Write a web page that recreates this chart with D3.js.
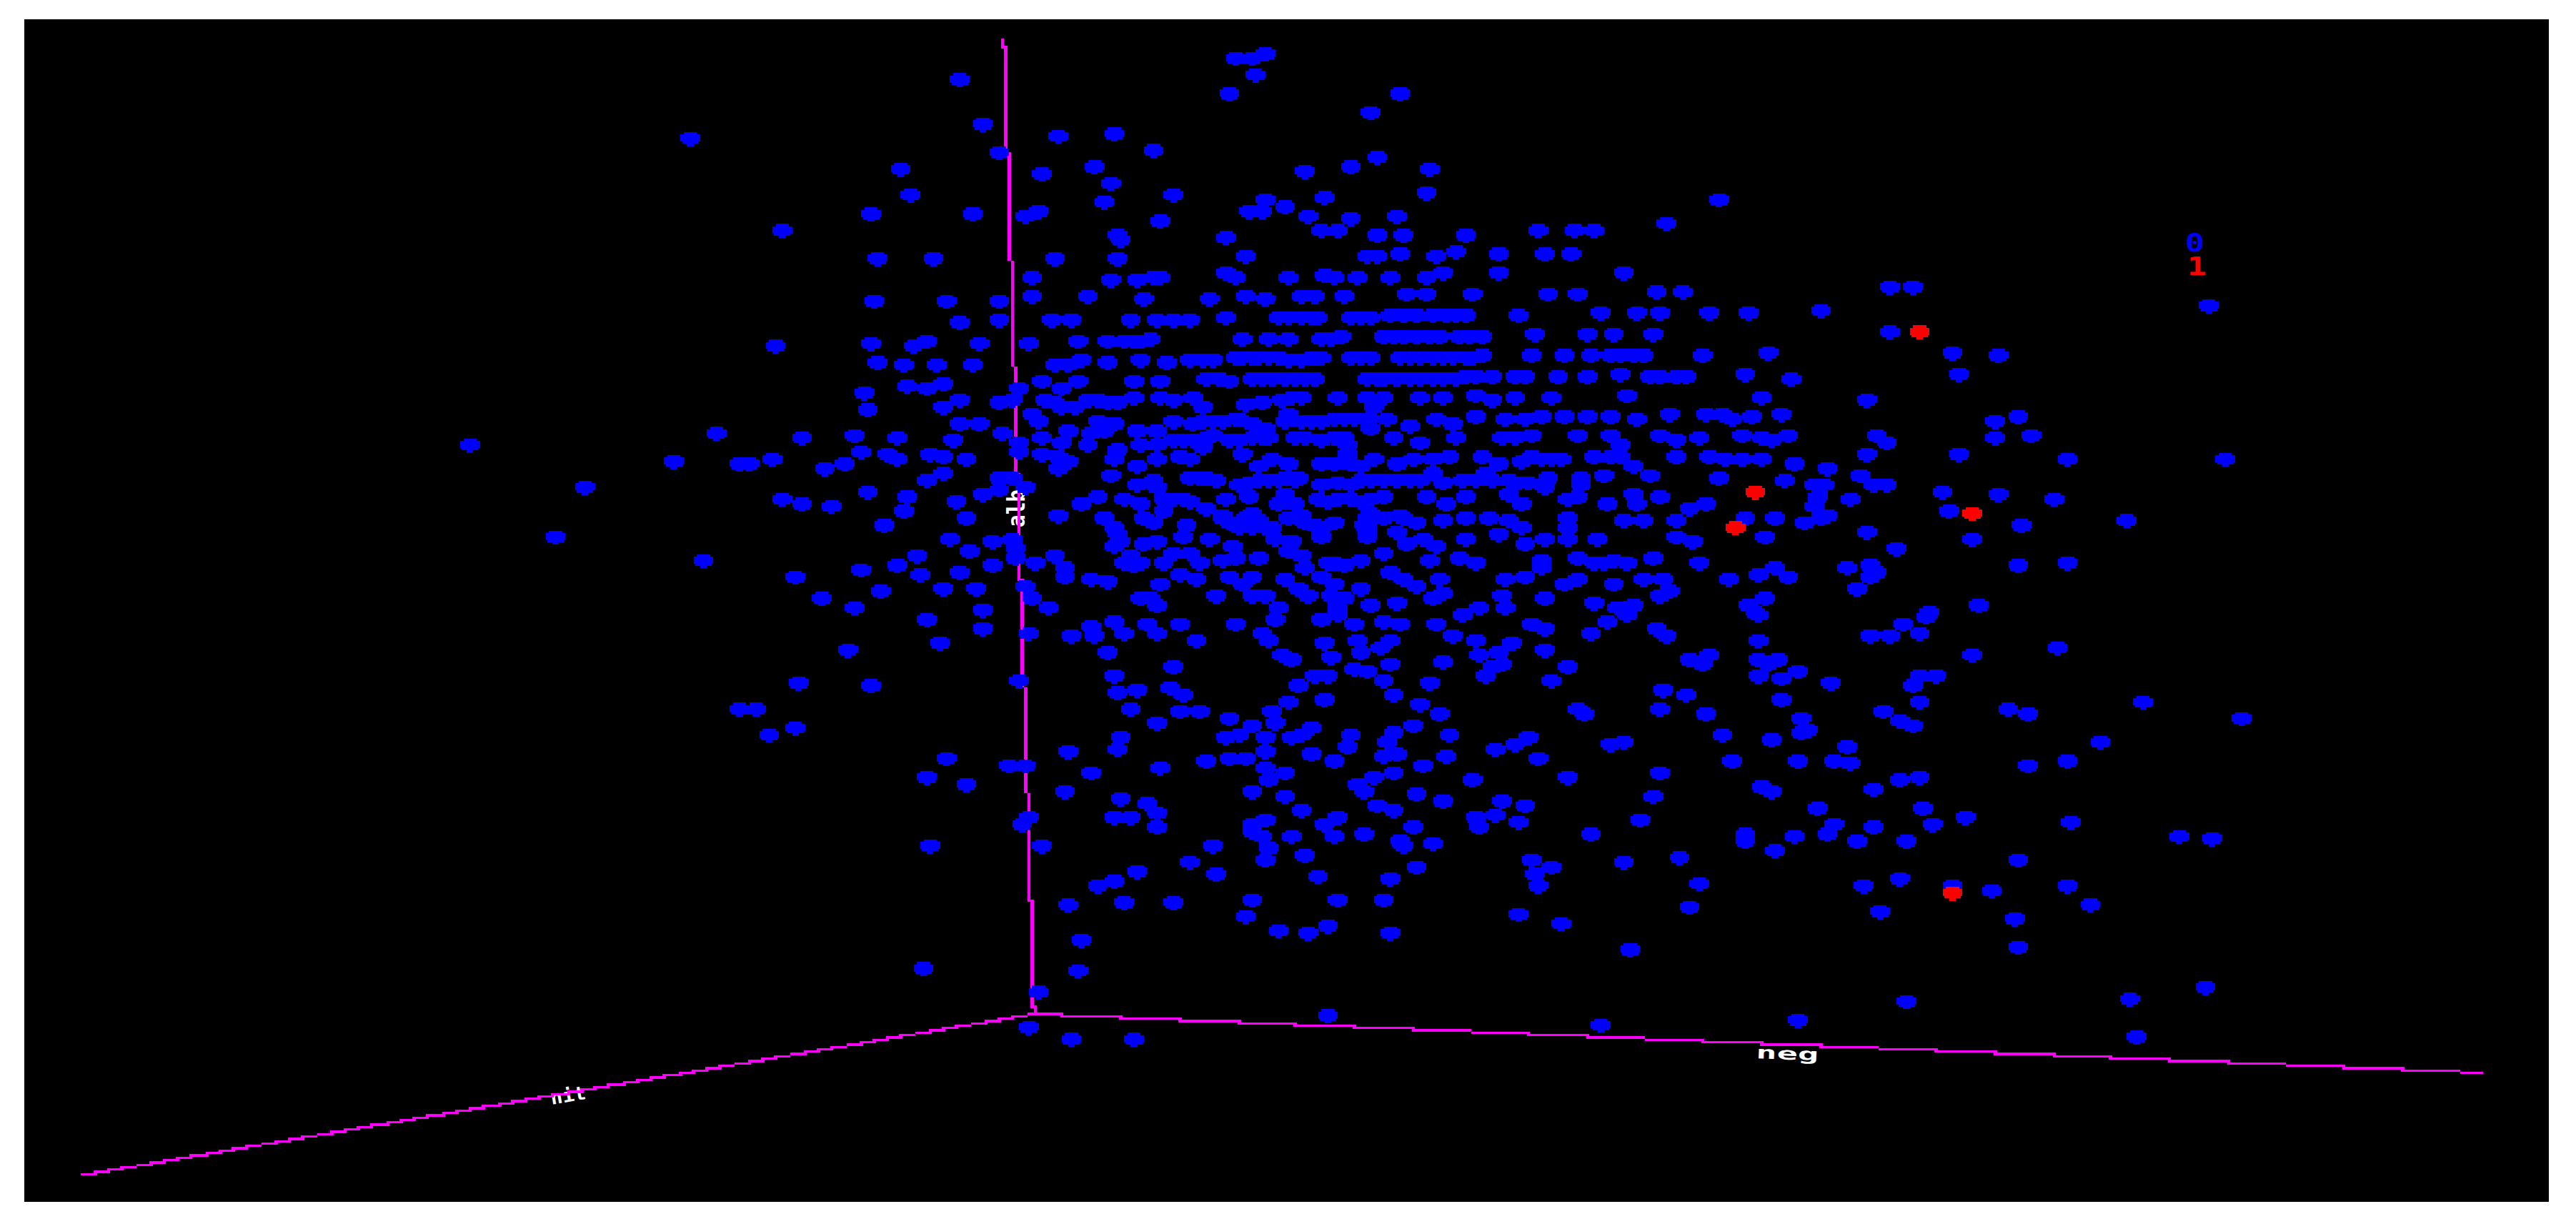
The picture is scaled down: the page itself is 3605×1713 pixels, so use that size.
<!DOCTYPE html>
<meta charset="utf-8">
<style>

body {
  margin: 0;
  background: #fff;
}

svg {
  display: block;
}

</style>
<body>
<script src="https://d3js.org/d3.v7.min.js"></script>
<script>

var w = 3605,
    h = 1713,
    cellW = 4.6,
    cellH = 3.3;

// values, one list per part of it (each part runs 0-1568 both ways)
var upperLeft = [[1265,357],[1432,590],[1417,884],[1468,1120],[1310,1106],[860,1138],[1232,1180],[1350,1185],[1372,1187],[1412,1176],[1507,1196],[1544,1183],[1071,1245],[1429,1278],[1466,1289],[1520,1292],[1018,1373],[1289,1431],[1454,1472],[1502,1527],[1560,1553],[1562,1115]];

var upperMiddle = [[690,148],[725,148],[745,137],[727,190],[190,202],[681,243],[993,243],[939,291],[227,318],[365,347],[472,340],[262,390],[539,383],[952,403],[1046,435],[903,425],[821,441],[81,432],[337,445],[433,427],[461,472],[98,500],[580,500],[454,515],[1041,496],[853,505],[749,510],[24,547],[214,549],[305,553],[333,542],[556,564],[715,542],[740,542],[783,531],[825,553],[904,558],[984,553],
  [850,590],[880,588],[950,600],[1000,602],[1112,599],[1244,592],[1314,591],[1347,590],[1480,574],[474,600],[480,612],[676,608],
  [37,660],[138,659],[363,664],[473,660],[712,654],[930,658],[950,653],[990,650],[1060,653],[1095,644],[1173,647],[1257,652],[1304,648],
  [317,712],[461,713],[510,716],[540,712],[555,712],[675,700],[690,710],[790,712],[855,703],[875,708],[915,708],[973,708],[1040,707],[1072,700],[1172,698],[1400,697],
  [30,768],[165,771],[262,770],[320,760],[419,761],[523,767],[643,765],[710,761],[748,765],[815,761],[838,757],[888,761],[1005,755],[1043,752],[1122,755],[1262,755],[1318,750],[1460,749],[1508,745],
  [190,822],[257,820],[358,819],[394,819],[500,817],[550,817],[580,817],[610,817],[676,813],[772,813],[810,813],[845,813],[905,811],[940,811],[977,809],[1025,809],[1075,809],[1115,806],[1209,805],[1358,803],[1424,802],[1466,802],[1560,798],
  [25,878],[102,882],[125,875],[223,877],[311,877],[403,875],[460,870],[505,871],[535,868],[706,867],[750,868],[790,867],[850,865],[885,863],[960,861],[1000,861],[1045,861],[1100,860],[1140,860],[1240,857],[1334,855],[1385,857],[1455,855],
  [36,929],[84,931],[143,931],[209,931],[360,935],[385,930],[412,922],[460,927],[520,920],[563,925],[610,920],[650,919],[705,917],[735,915],[770,917],[815,920],[840,915],[905,917],[940,915],[990,915],[1030,913],[1070,913],[1110,913],[1140,910],[1230,909],[1295,909],[1340,909],[1395,908],[1440,906],[1545,906],
  [335,973],[371,990],[403,972],[508,972],[554,972],[640,971],[680,972],[720,970],[760,967],[800,967],[835,967],[930,970],[965,966],[1010,966],[1050,966],[1095,966],[1130,962],[1200,962],[1280,962],[1337,962],[1394,959],[1450,961],[1500,960],[90,989],[130,994],[160,980],[10,1002],[298,990],
  [186,1021],[262,1030],[285,1022],[360,1027],[395,1043],[420,1025],[460,1027],[503,1017],[555,1017],[575,1025],[611,1017],[630,1040],[710,1037],[742,1027],[775,1020],[812,1017],[878,1019],[930,1017],[960,1019],[1030,1018],[1068,1016],[1132,1013],[1160,1020],[1205,1016],[1270,1016],[1410,1012],[945,1040],[17,1048],[160,1042],
  [317,1060],[332,1080],[223,1082],[185,1085],[440,1075],[470,1085],[575,1075],[615,1082],[650,1075],[690,1070],[725,1085],[790,1060],[785,1075],[830,1075],[870,1072],[910,1070],[970,1073],[1013,1088],[1060,1068],[1090,1082],[1130,1065],[1185,1068],[1220,1070],[1250,1065],[1292,1065],[1335,1067],[1376,1065],[1425,1070],[1484,1060],[1550,1059],
  [75,1117],[265,1106],[383,1099],[425,1105],[450,1100],[510,1100],[547,1100],[745,1095],[940,1095],[335,1117],[297,1130],[173,1128],[371,1131],[420,1135],[575,1125],[615,1125],[650,1115],[700,1125],[740,1120],[800,1117],[850,1125],[890,1120],[980,1117],[1097,1118],[1027,1130],[1180,1120],[1235,1115],[1315,1115],[1380,1115],[1465,1113],[1496,1128],[1540,1117],
  [7,1155],[55,1160],[70,1172],[135,1162],[155,1165],[202,1172],[293,1155],[340,1160],[365,1170],[385,1182],[475,1147],[703,1162],[515,1140],[545,1138],[630,1145],[610,1175],[590,1170],[470,1175],[510,1193],[545,1176],[760,1175],[790,1185],[735,1190],[850,1187],[895,1160],[900,1185],[945,1175],[985,1187],[1015,1172],[1050,1172],[1085,1170],[1140,1170],[1175,1187],[1215,1177],[1250,1172],[1290,1172],[1350,1165],[1395,1165],[1395,1140],[1418,1190],[1495,1167],[1555,1165],[1450,1213],[1365,1216],
  [130,1228],[155,1210],[260,1223],[285,1223],[365,1200],[463,1215],[540,1225],[625,1222],[655,1225],[700,1240],[735,1225],[770,1225],[800,1225],[850,1240],[880,1235],[920,1225],[960,1225],[1010,1228],[1050,1210],[1070,1235],[1105,1225],[1150,1210],[1160,1225],[1210,1235],[1262,1220],[1322,1220],[1325,1238],[1255,1245],[510,1240],[545,1245],
  [18,1259],[90,1272],[180,1282],[227,1266],[258,1252],[310,1243],[407,1287],[440,1270],[490,1275],[515,1290],[575,1275],[610,1280],[635,1297],[675,1278],[718,1272],[785,1275],[845,1277],[880,1277],[920,1280],[960,1272],[1040,1272],[1075,1290],[1110,1270],[1188,1262],[1215,1287],[1300,1275],[1320,1270],[1373,1288],[1418,1262],[1428,1288],[1467,1270],[84,1308],[197,1322],[365,1320],[1520,1298],[1550,1285],
  [48,1343],[450,1322],[525,1325],[560,1305],[540,1335],[600,1343],[665,1325],[695,1335],[720,1345],[745,1350],[725,1310],[790,1325],[820,1335],[850,1345],[875,1335],[930,1325],[960,1325],[990,1320],[1025,1335],[1071,1330],[1115,1323],[1155,1325],[1190,1330],[1215,1350],[1300,1322],[1400,1330],[1440,1330],[1500,1328],
  [170,1375],[245,1384],[283,1378],[207,1405],[290,1400],[475,1365],[480,1385],[525,1390],[545,1385],[597,1372],[646,1375],[688,1395],[765,1378],[795,1385],[850,1372],[930,1370],[985,1357],[1005,1388],[1035,1378],[1060,1395],[1113,1378],[1172,1367],[1222,1392],[1255,1378],[1300,1350],[1300,1375],[1355,1380],[1500,1373],[1530,1382],
  [110,1421],[70,1443],[115,1470],[185,1463],[248,1443],[325,1440],[380,1449],[362,1419],[292,1425],[380,1477],[7,1457],[500,1420],[490,1440],[520,1440],[560,1435],[577,1415],[610,1415],[625,1440],[665,1430],[695,1425],[735,1428],[788,1410],[810,1420],[875,1440],[920,1430],[964,1412],[1046,1430],[1100,1425],[1130,1440],[1250,1430],[1250,1450],[1318,1427],[1345,1440],[1385,1430],[1455,1426],[1538,1437],
  [430,1480],[460,1486],[305,1498],[590,1470],[620,1480],[677,1473],[725,1475],[705,1495],[552,1493],[780,1483],[820,1453],[850,1475],[875,1493],[975,1465],[1000,1480],[1020,1500],[1063,1483],[1185,1479],[1220,1473],[1295,1490],[1320,1483],[1383,1490],[1437,1480],[1472,1480],[42,1513],[160,1506],[215,1505],[805,1505],[920,1507],[1485,1510],
  [322,1529],[352,1550],[228,1558],[538,1530],[520,1530],[658,1522],[725,1523],[745,1523],[823,1525],[878,1530],[1050,1530],[1070,1518],[1178,1522],[1258,1530],[1345,1540],[1420,1545],[1468,1525],[938,1545],[987,1543],[772,1553],[1135,1553],[1185,1553],[1390,1555],[545,1548],[880,1550]];

// the merged runs in the crowded rows of the same part
var upperMiddleRuns = [[790,813],[828,813],[923,811],[1000,809],[1050,809],[1095,808],
  [490,870],[520,870],[980,861],[1022,861],[1065,861],[1120,860],[868,864],
  [630,920],[690,917],[720,915],[752,917],[790,920],[828,917],[850,915],[922,916],[1010,915],[1050,913],[1090,913],[1125,912],[1380,908],[1420,907],
  [660,971],[740,968],[780,967],[818,967],[948,968],[985,966],[1030,966],[1070,966],[1115,964],[1160,962],[1220,962],[1470,961],[1515,961],
  [345,1025],[375,1040],[440,1025],[475,1027],[795,1018],
  [630,1080],[670,1075],[700,1068],[810,1080],[850,1078],[890,1072],[930,1068],
  [820,1120],[870,1120],[595,1125],[635,1120],[680,1125],[720,1120],[755,1120],[1200,1120],
  [870,1187],[920,1190],[895,1140],[1270,1172],[1230,1170],[1375,1165],
  [610,1222],[640,1222],[715,1235],[750,1225],[785,1222],[805,1222],[900,1240],[940,1225],[985,1225],[1030,1228],[1130,1225],[1190,1225],[1225,1235],
  [560,1275],[595,1275],[770,1290],[800,1285],[785,1265],[860,1280],[900,1277],[940,1275],
  [665,1320],[680,1335],[710,1325],[735,1330],[760,1345],[700,1350],[810,1320],[835,1340],[925,1340],[935,1355],[940,1310],[1000,1325],
  [470,1350],[470,1395],[930,1350],
  [1365,1435],[1405,1440],[505,1445],[860,1440],[890,1445],
  [865,1525],[890,1530]];

var upperRight = [[5,514],[319,733],[361,732],[63,798],[191,796],[900,784],[316,849],[98,903],[430,905],[518,907],[55,957],[141,966],[442,956],[85,1015],[274,1021],[16,1058],[32,1072],[65,1063],[119,1059],[555,1066],[508,1080],[513,1117],[578,1111],[52,1115],[88,1117],[105,1123],[136,1111],[293,1112],[310,1133],[447,1159],[18,1171],[50,1171],[85,1171],[275,1163],[144,1187],[644,1171],[930,1175],[206,1199],[5,1220],[125,1225],[262,1217],[180,1238],[198,1238],[290,1238],[310,1237],[417,1256],[518,1262],[620,1273],[190,1272],[180,1292],[247,1277],[55,1326],[107,1326],[161,1338],[193,1326],[207,1317],[278,1357],[424,1306],[560,1341],[752,1331],[89,1370],[471,1375],[328,1400],[110,1449],[238,1452],[285,1443],[296,1462],[283,1477],[555,1443],[644,1441],[24,1479],[77,1469],[133,1476],[256,1504],[60,1544],[93,1531],[482,1544],[390,1563],[75,1565]];

var lowerLeft = [[1552,94],[1460,180],[1352,244],[1385,243],[1455,291],[1404,309]];

var lowerMiddle = [[128,14],[227,40],[151,77],[24,184],[312,52],[293,170],[390,58],[433,58],[430,32],[470,20],[485,50],[532,28],[550,52],[587,25],[620,67],[460,97],[580,133],[467,160],[476,204],[514,197],[570,190],[598,208],[498,243],[545,282],[592,254],[628,250],[694,27],[766,13],[739,48],[755,68],[850,13],[878,3],[910,25],[965,18],[990,25],[1060,25],[1105,3],[856,78],[917,67],[918,97],[955,85],[972,68],[778,108],[797,120],[865,112],[1090,57],[1131,72],[1198,73],[1136,105],[1172,97],[1258,95],[975,130],[1070,125],[1232,25],[1258,41],[1340,53],[1370,18],[1408,2],[1460,40],[1480,60],[1520,120],[1545,132],[1555,105],[1300,133],[1180,127],[1160,138],[1150,158],[908,143],[935,150],[835,160],[860,160],[964,175],[1047,178],[1272,173],[808,185],[982,207],[1472,195],[1514,206],[790,226],[856,218],[1030,233],[1066,255],[1318,243],[1330,255],[1467,248],[1553,260],[682,271],[757,253],[725,285],[765,280],[1017,289],[1080,310],[830,292],[815,310],[793,320],[700,310],[676,320],[748,315],[900,309],[982,307],[970,328],[898,340],[1225,317],[1205,335],[1166,347],[1245,373],[1375,338],[1400,330],[484,316],[478,347],[386,352],[161,375],[280,393],[305,390],[430,408],[125,420],[200,439],[556,398],[640,381],[682,373],[712,374],[748,357],[830,363],[872,380],[965,367],[985,358],[1077,368],[1036,390],[748,395],[785,411],[755,430],[982,406],[1127,427],[1297,423],[1470,410],[945,422],[915,440],[928,455],[377,459],[724,456],[783,468],[1024,463],[1072,480],[1178,482],[1455,470],[1222,495],[484,477],[530,490],[550,510],[950,495],[982,503],[811,503],[470,523],[502,523],[545,550],[880,524],[853,543],[1130,522],[1166,520],[1210,535],[1137,550],[1433,530],[1018,550],[745,528],[725,540],[313,525],[300,545],[725,560],[740,575],[797,575],[870,574],[927,568],[995,583],[1000,595],[1055,590],[1340,567],[131,599],[336,594],[652,597],[750,600],[820,623],[748,634],[605,642],[1234,632],[1268,650],[1400,642],[1502,627],[1240,667],[1023,654],[511,665],[658,668],[840,675],[975,680],[470,688],[440,698],[1247,703],[1540,692],[383,747],[490,745],[575,744],[725,736],[880,738],[965,737],[1520,755],[1209,773],[712,781],[1287,800],[772,813],[823,820],[860,806],[972,822],[412,840],[1412,865],[122,911],[403,918],[334,976],[858,1033],[1358,1055],[312,1063],[390,1095],[503,1096]];

var lowerRight = [[77,5],[387,8],[343,28],[280,58],[316,54],[370,50],[82,70],[627,86],[467,105],[77,115],[117,115],[100,130],[150,147],[80,163],[119,167],[209,181],[370,163],[404,163],[358,187],[372,224],[119,218],[778,228],[155,267],[307,250],[537,244],[572,255],[957,272],[335,278],[358,290],[170,298],[155,303],[13,313],[101,324],[700,329],[238,341],[30,378],[150,379],[216,381],[247,384],[644,378],[569,390],[370,421],[338,427],[85,445],[103,458],[286,449],[190,501],[381,502],[458,522],[650,538],[53,565],[53,585],[144,571],[220,545],[208,567],[286,550],[394,545],[846,571],[906,581],[256,585],[347,583],[107,609],[551,634],[268,701],[334,684],[430,700],[502,711],[644,701],[682,746],[298,766],[546,784],[555,860],[894,961],[754,990],[349,998],[153,1045],[766,1090]];

var redUpperRight = [[372,848],[72,1256],[471,1309],[38,1347]];
var redLowerRight = [[430,721]];

// columns and rows of the picture that the lists above belong to
var columnEdges = [0, 1200, 2400, 3605],
    rowEdges = [0, 860, 1713];

function partX(col) {
  return d3.scaleLinear().domain([0, 1568]).range([columnEdges[col], columnEdges[col + 1]]);
}

function partY(row) {
  return d3.scaleLinear().domain([0, 1568]).range([rowEdges[row], rowEdges[row + 1]]);
}

function place(list, col, row) {
  var x = partX(col), y = partY(row);
  return list.map(function(d) { return [snapX(x(d[0])), snapY(y(d[1]))]; });
}

function snapX(v) { return Math.round(v / cellW) * cellW; }
function snapY(v) { return Math.round(v / cellH) * cellH; }

var blue = [].concat(
  place(upperLeft, 0, 0), place(upperMiddle, 1, 0), place(upperMiddleRuns, 1, 0), place(upperRight, 2, 0),
  place(lowerLeft, 0, 1), place(lowerMiddle, 1, 1), place(lowerRight, 2, 1));

var red = [].concat(place(redUpperRight, 2, 0), place(redLowerRight, 2, 1));

var svg = d3.select("body").append("svg")
    .attr("width", w)
    .attr("height", h);

svg.append("rect")
    .attr("x", 34)
    .attr("y", 27)
    .attr("width", 3533)
    .attr("height", 1655)
    .attr("fill", "#000");

// axis names sit under the axis lines
var axisNames = [
  {name: "nit", x: 772, y: 1546, angle: -9.6, size: 26, length: 50},
  {name: "neg", x: 2457, y: 1481, angle: 2.3, size: 24, length: 88},
  {name: "alb", x: 1434, y: 738, angle: -90, size: 34, length: 53}
];

svg.selectAll(".axis-name")
    .data(axisNames)
  .enter().append("text")
    .attr("class", "axis-name")
    .attr("transform", function(d) { return "translate(" + d.x + "," + d.y + ") rotate(" + d.angle + ")"; })
    .attr("textLength", function(d) { return d.length; })
    .attr("lengthAdjust", "spacingAndGlyphs")
    .style("font-family", "'DejaVu Sans Mono'")
    .style("font-weight", "bold")
    .style("font-size", function(d) { return d.size + "px"; })
    .style("fill", "#fff")
    .text(function(d) { return d.name; });

// axis lines come out as stairs, one low-res cell at a time
var origin = [1447, 1419],
    axisEnds = [[1405, 56], [3472, 1501], [113, 1645]];

function stairs(from, to) {
  var cells = new Set(),
      n = Math.ceil(Math.max(Math.abs(to[0] - from[0]), Math.abs(to[1] - from[1]))),
      x = d3.scaleLinear().domain([0, n]).range([from[0], to[0]]),
      y = d3.scaleLinear().domain([0, n]).range([from[1], to[1]]),
      p = d3.path();
  d3.range(n + 1).forEach(function(i) {
    cells.add(Math.round(x(i) / cellW) + "," + Math.round(y(i) / cellH));
  });
  cells.forEach(function(c) {
    var k = c.split(",");
    p.rect(k[0] * cellW - cellW / 2, k[1] * cellH - cellH / 2, cellW, cellH);
  });
  return p.toString();
}

svg.selectAll(".axis")
    .data(axisEnds)
  .enter().append("path")
    .attr("class", "axis")
    .attr("d", function(d) { return stairs(origin, d); })
    .attr("fill", "#f0f")
    .attr("shape-rendering", "crispEdges");

// one blocky sphere
var rowWidths = [4, 6, 6, 6, 5, 2];

function blobPath() {
  var p = d3.path();
  rowWidths.forEach(function(n, i) {
    p.rect(-n * cellW / 2, (i - rowWidths.length / 2) * cellH, n * cellW, cellH);
  });
  return p.toString();
}

var blob = blobPath();

svg.selectAll(".blue")
    .data(blue)
  .enter().append("path")
    .attr("class", "blue")
    .attr("d", blob)
    .attr("transform", function(d) { return "translate(" + d[0] + "," + d[1] + ")"; })
    .attr("fill", "#00f")
    .attr("shape-rendering", "crispEdges");

svg.selectAll(".red")
    .data(red)
  .enter().append("path")
    .attr("class", "red")
    .attr("d", blob)
    .attr("transform", function(d) { return "translate(" + d[0] + "," + d[1] + ")"; })
    .attr("fill", "#f00")
    .attr("shape-rendering", "crispEdges");

// class legend
var classNames = ["0", "1"],
    classColors = ["#00f", "#f00"],
    legendX = [3058, 3061],
    legendY = [352, 385];

svg.selectAll(".legend")
    .data(classNames)
  .enter().append("text")
    .attr("class", "legend")
    .attr("x", function(d, i) { return legendX[i]; })
    .attr("y", function(d, i) { return legendY[i]; })
    .attr("textLength", 27)
    .attr("lengthAdjust", "spacingAndGlyphs")
    .style("font-family", "'DejaVu Sans Mono'")
    .style("font-weight", "bold")
    .style("font-size", "36px")
    .style("fill", function(d, i) { return classColors[i]; })
    .text(function(d) { return d; });

</script>
